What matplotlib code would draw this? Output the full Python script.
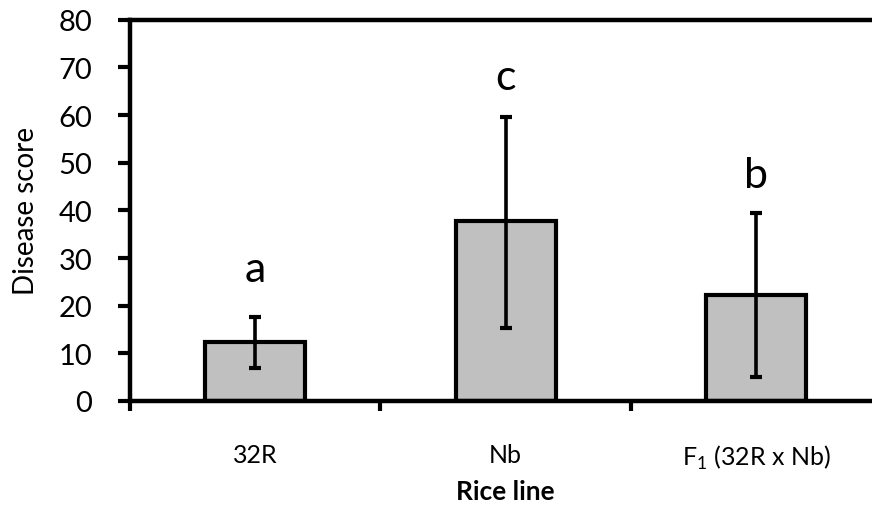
import numpy as np
import matplotlib
matplotlib.use("Agg")
import matplotlib.pyplot as plt

# data
lines = ["32R", "Nb", r"F$_\mathregular{1}$ (32R x Nb)"]
score = [12.3, 37.8, 22.2]
err_low = [6.9, 15.4, 5.1]
err_high = [17.7, 59.5, 39.4]
letters = ["a", "c", "b"]
letter_y = [27.7, 67.9, 47.4]

plt.rcParams['font.family'] = ['Lato', 'DejaVu Sans']
plt.rcParams['mathtext.fontset'] = 'custom'
plt.rcParams['mathtext.rm'] = 'Lato'

fig = plt.figure(figsize=(8.72, 5.10), dpi=100)
ax = fig.add_axes([0.149, 0.2118, 0.8618, 0.7476])

x = np.arange(len(lines))
score = np.array(score)
yerr = [score - np.array(err_low), np.array(err_high) - score]

ax.bar(x, score, width=0.40, color='#c0c0c0', edgecolor='black', linewidth=3.0, zorder=2)
ax.errorbar(x, score, yerr=yerr, fmt='none', ecolor='black', elinewidth=2.6,
            capsize=4.5, capthick=3.0, zorder=3)

for xi, lab, ly in zip(x, letters, letter_y):
    ax.text(xi, ly, lab, ha='center', va='center', fontsize=31)

ax.set_xlim(-0.5, 2.5)
ax.set_ylim(0, 80)
ax.set_yticks(np.arange(0, 81, 10))
ax.set_xticks(x)
ax.set_xticklabels(lines)
ax.set_xticks([-0.5, 0.5, 1.5, 2.5], minor=True)

ax.tick_params(axis='y', direction='out', length=9, width=3.0, pad=18, labelsize=21)
ax.tick_params(axis='x', which='major', length=0, pad=30, labelsize=18)
ax.tick_params(axis='x', which='minor', direction='out', length=7, width=3.0)

for side in ['left', 'bottom', 'top']:
    ax.spines[side].set_linewidth(3.2)
ax.spines['right'].set_visible(False)

ax.set_ylabel('Disease score', fontsize=20, labelpad=14)
ax.set_xlabel('Rice line', fontsize=19, fontweight='bold', labelpad=6)

fig.savefig('out.png', dpi=100)
